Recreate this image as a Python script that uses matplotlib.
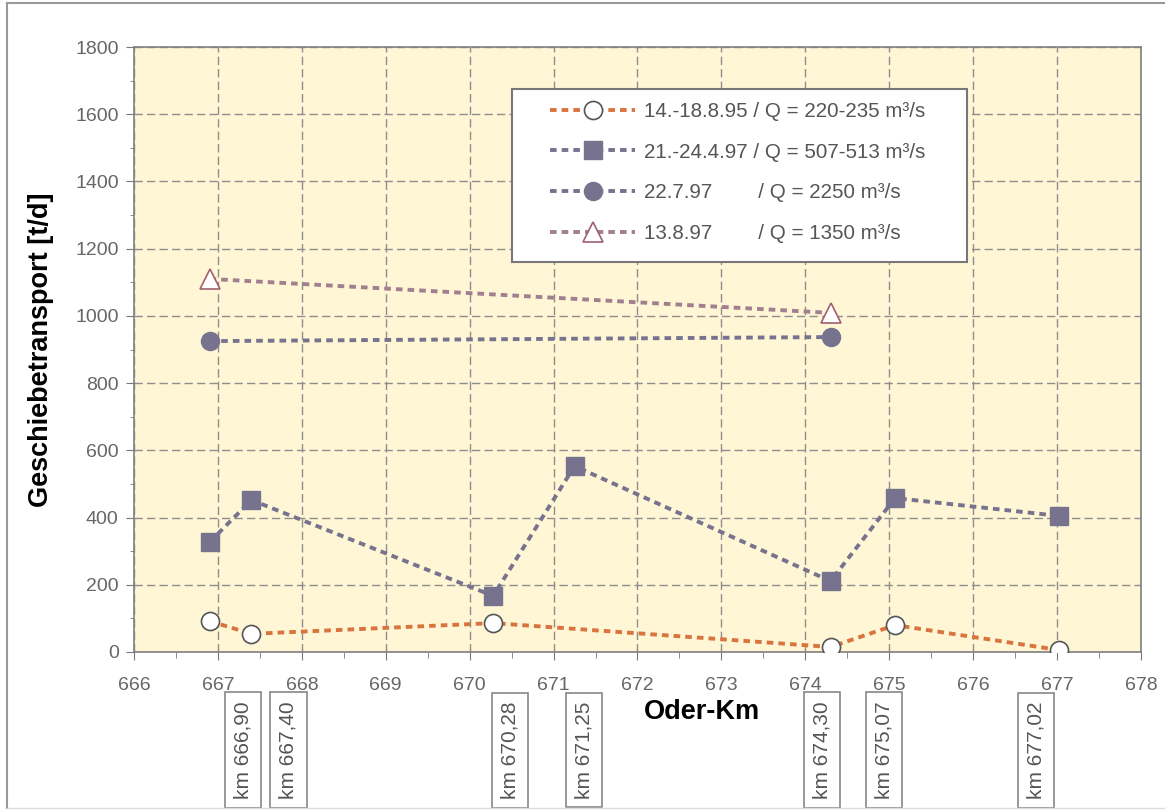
import matplotlib.pyplot as plt
from matplotlib.lines import Line2D
from matplotlib.patches import Rectangle
from matplotlib.ticker import MultipleLocator

plt.rcParams['font.family'] = ['Liberation Sans', 'DejaVu Sans']

# measuring stations (Oder-Km)
km_all = [666.90, 667.40, 670.28, 674.30, 675.07, 677.02]
km_sq = [666.90, 667.40, 670.28, 671.25, 674.30, 675.07, 677.02]
km_two = [666.90, 674.30]

# bedload transport [t/d]
q_1995 = [92, 54, 86, 15, 80, 6]
q_apr97 = [327, 452, 167, 553, 211, 458, 405]
q_jul97 = [925, 937]
q_aug97 = [1110, 1009]

labels = ['14.-18.8.95 / Q = 220-235 m³/s',
          '21.-24.4.97 / Q = 507-513 m³/s',
          '22.7.97        / Q = 2250 m³/s',
          '13.8.97        / Q = 1350 m³/s']

box_labels = ['km 666,90', 'km 667,40', 'km 670,28', 'km 671,25',
              'km 674,30', 'km 675,07', 'km 677,02']
box_x = [667.30, 667.84, 670.48, 671.36, 674.20, 674.94, 676.75]

fig = plt.figure(figsize=(11.65, 8.11), dpi=100)
ax = fig.add_axes([134 / 1165, 1 - 652 / 811, 1007 / 1165, 605 / 811])
ax.set_facecolor('#fef6d4')

c_or = '#d9743f'
c_pu = '#77738f'
c_ma = '#a27f8f'
dash = (1.7, 1.3)

ax.plot(km_all, q_1995, color=c_or, lw=2.8, dashes=dash, marker='o', ms=13,
        mfc='white', mec='#555555', mew=1.2, label=labels[0], zorder=3)
ax.plot(km_sq, q_apr97, color=c_pu, lw=2.8, dashes=dash, marker='s', ms=13,
        mfc=c_pu, mec=c_pu, label=labels[1], zorder=3)
ax.plot(km_two, q_jul97, color=c_pu, lw=2.8, dashes=dash, marker='o', ms=13,
        mfc=c_pu, mec=c_pu, label=labels[2], zorder=3)
ax.plot(km_two, q_aug97, color=c_ma, lw=2.8, dashes=dash, marker='^', ms=14,
        mfc='white', mec='#a0606f', mew=1.2, label=labels[3], zorder=3)

ax.set_xlim(666, 678)
ax.set_ylim(0, 1800)
ax.xaxis.set_major_locator(MultipleLocator(1))
ax.xaxis.set_minor_locator(MultipleLocator(0.5))
ax.yaxis.set_major_locator(MultipleLocator(200))
ax.yaxis.set_minor_locator(MultipleLocator(100))
ax.grid(True, which='major', color='#8e8e8e', lw=1.0, dashes=(6, 3))
ax.set_axisbelow(True)

ax.tick_params(which='both', direction='out', colors='#777777',
               labelcolor='#666666', labelsize=14)
ax.tick_params(axis='x', which='major', length=6, pad=12)
ax.tick_params(axis='x', which='minor', length=4)
ax.tick_params(axis='y', which='major', length=6, pad=5)
ax.tick_params(axis='y', which='minor', length=3)
for s in ax.spines.values():
    s.set_color('#808080')
    s.set_linewidth(1.2)

ax.set_ylabel('Geschiebetransport [t/d]', fontsize=19.5, fontweight='bold')
ax.yaxis.set_label_coords(-80 / 1007, 0.5)
ax.set_xlabel('Oder-Km', fontsize=19.5, fontweight='bold')
ax.xaxis.set_label_coords((702 - 134) / 1007, (652 - 699) / 605)

# legend box
ax.add_patch(Rectangle(((512 - 134) / 1007, (652 - 262) / 605),
                       (967 - 512) / 1007, (262 - 89) / 605,
                       transform=ax.transAxes, facecolor='white',
                       edgecolor='#777777', lw=1.5, zorder=4))
leg = ax.legend(loc='upper left', bbox_to_anchor=((550 - 134) / 1007, (652 - 102) / 605),
                frameon=False, fontsize=14.8, handlelength=4.15, handletextpad=0.4,
                labelspacing=1.05, borderpad=0, borderaxespad=0, numpoints=1)
leg.set_zorder(5)
for t in leg.get_texts():
    t.set_color('#555555')

# station boxes below the axis
trans = ax.get_xaxis_transform()
for x, lab in zip(box_x, box_labels):
    ax.text(x, (652 - 750) / 605, lab, rotation=90, ha='center', va='center',
            fontsize=15, color='#555555', transform=trans, clip_on=False,
            bbox=dict(boxstyle='square,pad=0.42', fc='white', ec='#888888', lw=1.2))

# outer frame
fig.add_artist(Line2D([7 / 1165, 7 / 1165], [1 - 808 / 811, 1 - 3 / 811],
                      transform=fig.transFigure, color='#999999', lw=1.5))
fig.add_artist(Line2D([7 / 1165, 1], [1 - 3 / 811, 1 - 3 / 811],
                      transform=fig.transFigure, color='#999999', lw=1.5))
fig.add_artist(Line2D([7 / 1165, 1], [1 - 808 / 811, 1 - 808 / 811],
                      transform=fig.transFigure, color='#dddddd', lw=1.0))

fig.savefig('out.png', dpi=100)
